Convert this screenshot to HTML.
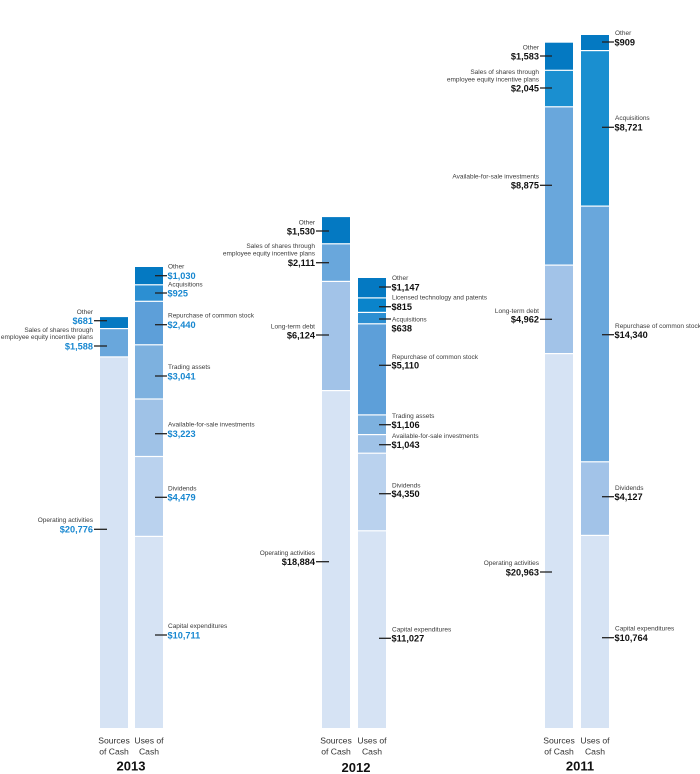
<!DOCTYPE html>
<html><head><meta charset="utf-8"><style>
html,body{margin:0;padding:0;background:#fff;}
svg{display:block;}
.l{font-family:"Liberation Sans",sans-serif;font-size:6.5px;fill:#3c3c3c;}
.v{font-family:"Liberation Sans",sans-serif;font-size:9.2px;font-weight:bold;fill:#111;}
.vb{font-family:"Liberation Sans",sans-serif;font-size:9.2px;font-weight:bold;fill:#1787d0;}
.e{text-anchor:end;}
.ax{font-family:"Liberation Sans",sans-serif;font-size:8.6px;fill:#333;text-anchor:middle;}
.yr{font-family:"Liberation Sans",sans-serif;font-size:13px;font-weight:bold;fill:#111;text-anchor:middle;}
line{stroke:#222;stroke-width:1.3;}
</style></head><body>
<svg width="700" height="774" viewBox="0 0 700 774" xmlns="http://www.w3.org/2000/svg">
<!-- 2013 sources -->
<rect x="100" y="357.5" width="28" height="370.5" fill="#d6e3f4"/>
<rect x="100" y="329.2" width="28" height="27.1" fill="#69a7dc"/>
<rect x="100" y="317.1" width="28" height="10.9" fill="#0479c2"/>
<!-- 2013 uses -->
<rect x="135" y="537.0" width="28" height="191" fill="#d6e3f4"/>
<rect x="135" y="457.1" width="28" height="78.7" fill="#bad2ee"/>
<rect x="135" y="399.6" width="28" height="56.3" fill="#9fc2e7"/>
<rect x="135" y="345.4" width="28" height="53.0" fill="#7db1df"/>
<rect x="135" y="301.9" width="28" height="42.3" fill="#5d9fd9"/>
<rect x="135" y="285.4" width="28" height="15.3" fill="#2c8fd2"/>
<rect x="135" y="267.0" width="28" height="17.2" fill="#0479c2"/>
<!-- 2012 sources -->
<rect x="322" y="391.2" width="28" height="336.8" fill="#d6e3f4"/>
<rect x="322" y="282.0" width="28" height="108.0" fill="#a2c3e8"/>
<rect x="322" y="244.4" width="28" height="36.4" fill="#69a7dc"/>
<rect x="322" y="217.1" width="28" height="26.1" fill="#0479c2"/>
<!-- 2012 uses -->
<rect x="358" y="531.4" width="28" height="196.6" fill="#d6e3f4"/>
<rect x="358" y="453.8" width="28" height="76.4" fill="#bad2ee"/>
<rect x="358" y="435.2" width="28" height="17.4" fill="#9fc2e7"/>
<rect x="358" y="415.5" width="28" height="18.5" fill="#7db1df"/>
<rect x="358" y="324.4" width="28" height="89.9" fill="#5d9fd9"/>
<rect x="358" y="313.0" width="28" height="10.2" fill="#2c8fd2"/>
<rect x="358" y="298.5" width="28" height="13.3" fill="#0a84cb"/>
<rect x="358" y="278.0" width="28" height="19.3" fill="#0479c2"/>
<!-- 2011 sources -->
<rect x="545" y="354.2" width="28" height="373.8" fill="#d6e3f4"/>
<rect x="545" y="265.7" width="28" height="87.3" fill="#a2c3e8"/>
<rect x="545" y="107.4" width="28" height="157.1" fill="#69a7dc"/>
<rect x="545" y="70.9" width="28" height="35.3" fill="#1a8fd0"/>
<rect x="545" y="42.7" width="28" height="27.0" fill="#0479c2"/>
<!-- 2011 uses -->
<rect x="581" y="536.0" width="28" height="192" fill="#d6e3f4"/>
<rect x="581" y="462.4" width="28" height="72.4" fill="#a2c3e8"/>
<rect x="581" y="206.7" width="28" height="254.5" fill="#69a7dc"/>
<rect x="581" y="51.2" width="28" height="154.3" fill="#1a8fd0"/>
<rect x="581" y="35.0" width="28" height="15.0" fill="#0479c2"/>

<!-- 2013 left labels -->
<text class="l e" x="93" y="314">Other</text>
<text class="vb e" x="93" y="324">$681</text>
<line x1="94" y1="320.7" x2="107" y2="320.7"/>
<text class="l e" x="93" y="332">Sales of shares through</text>
<text class="l e" x="93" y="339">employee equity incentive plans</text>
<text class="vb e" x="93" y="349.3">$1,588</text>
<line x1="94" y1="346" x2="107" y2="346"/>
<text class="l e" x="93" y="522">Operating activities</text>
<text class="vb e" x="93" y="532.6">$20,776</text>
<line x1="94" y1="529.3" x2="107" y2="529.3"/>
<!-- 2013 right labels -->
<text class="l" x="168" y="268.6">Other</text>
<text class="vb" x="167.5" y="279">$1,030</text>
<line x1="155" y1="275.7" x2="167" y2="275.7"/>
<text class="l" x="168" y="286.6">Acquisitions</text>
<text class="vb" x="167.5" y="296.3">$925</text>
<line x1="155" y1="293" x2="167" y2="293"/>
<text class="l" x="168" y="317.6">Repurchase of common stock</text>
<text class="vb" x="167.5" y="328">$2,440</text>
<line x1="155" y1="324.7" x2="167" y2="324.7"/>
<text class="l" x="168" y="369">Trading assets</text>
<text class="vb" x="167.5" y="379.3">$3,041</text>
<line x1="155" y1="376" x2="167" y2="376"/>
<text class="l" x="168" y="426.6">Available-for-sale investments</text>
<text class="vb" x="167.5" y="437">$3,223</text>
<line x1="155" y1="433.7" x2="167" y2="433.7"/>
<text class="l" x="168" y="490.3">Dividends</text>
<text class="vb" x="167.5" y="500.6">$4,479</text>
<line x1="155" y1="497.3" x2="167" y2="497.3"/>
<text class="l" x="168" y="628">Capital expenditures</text>
<text class="vb" x="167.5" y="638.3">$10,711</text>
<line x1="155" y1="635" x2="167" y2="635"/>

<!-- 2012 left labels -->
<text class="l e" x="315" y="224.6">Other</text>
<text class="v e" x="315" y="234.3">$1,530</text>
<line x1="316" y1="231" x2="329" y2="231"/>
<text class="l e" x="315" y="248">Sales of shares through</text>
<text class="l e" x="315" y="255.6">employee equity incentive plans</text>
<text class="v e" x="315" y="266">$2,111</text>
<line x1="316" y1="262.7" x2="329" y2="262.7"/>
<text class="l e" x="315" y="328.3">Long-term debt</text>
<text class="v e" x="315" y="338.3">$6,124</text>
<line x1="316" y1="335" x2="329" y2="335"/>
<text class="l e" x="315" y="555">Operating activities</text>
<text class="v e" x="315" y="565">$18,884</text>
<line x1="316" y1="561.7" x2="329" y2="561.7"/>
<!-- 2012 right labels -->
<text class="l" x="392" y="280">Other</text>
<text class="v" x="391.5" y="290.3">$1,147</text>
<line x1="379" y1="287" x2="391" y2="287"/>
<text class="l" x="392" y="299.6">Licensed technology and patents</text>
<text class="v" x="391.5" y="310">$815</text>
<line x1="379" y1="306.7" x2="391" y2="306.7"/>
<text class="l" x="392" y="321.3">Acquisitions</text>
<text class="v" x="391.5" y="331.6">$638</text>
<line x1="379" y1="319" x2="391" y2="319"/>
<text class="l" x="392" y="359">Repurchase of common stock</text>
<text class="v" x="391.5" y="368.6">$5,110</text>
<line x1="379" y1="365.3" x2="391" y2="365.3"/>
<text class="l" x="392" y="418">Trading assets</text>
<text class="v" x="391.5" y="428">$1,106</text>
<line x1="379" y1="424.7" x2="391" y2="424.7"/>
<text class="l" x="392" y="438">Available-for-sale investments</text>
<text class="v" x="391.5" y="448">$1,043</text>
<line x1="379" y1="444.7" x2="391" y2="444.7"/>
<text class="l" x="392" y="487.3">Dividends</text>
<text class="v" x="391.5" y="497">$4,350</text>
<line x1="379" y1="493.7" x2="391" y2="493.7"/>
<text class="l" x="392" y="631.3">Capital expenditures</text>
<text class="v" x="391.5" y="641.6">$11,027</text>
<line x1="379" y1="638.3" x2="391" y2="638.3"/>

<!-- 2011 left labels -->
<text class="l e" x="539" y="49.6">Other</text>
<text class="v e" x="539" y="59.3">$1,583</text>
<line x1="540" y1="56" x2="552" y2="56"/>
<text class="l e" x="539" y="74">Sales of shares through</text>
<text class="l e" x="539" y="81.3">employee equity incentive plans</text>
<text class="v e" x="539" y="91.3">$2,045</text>
<line x1="540" y1="88" x2="552" y2="88"/>
<text class="l e" x="539" y="178.3">Available-for-sale investments</text>
<text class="v e" x="539" y="188.6">$8,875</text>
<line x1="540" y1="185.3" x2="552" y2="185.3"/>
<text class="l e" x="539" y="313">Long-term debt</text>
<text class="v e" x="539" y="322.6">$4,962</text>
<line x1="540" y1="319.3" x2="552" y2="319.3"/>
<text class="l e" x="539" y="565">Operating activities</text>
<text class="v e" x="539" y="575.3">$20,963</text>
<line x1="540" y1="572" x2="552" y2="572"/>
<!-- 2011 right labels -->
<text class="l" x="615" y="35">Other</text>
<text class="v" x="614.5" y="45.3">$909</text>
<line x1="602" y1="42" x2="614" y2="42"/>
<text class="l" x="615" y="120">Acquisitions</text>
<text class="v" x="614.5" y="130.6">$8,721</text>
<line x1="602" y1="127.3" x2="614" y2="127.3"/>
<text class="l" x="615" y="328">Repurchase of common stock</text>
<text class="v" x="614.5" y="338">$14,340</text>
<line x1="602" y1="334.7" x2="614" y2="334.7"/>
<text class="l" x="615" y="490">Dividends</text>
<text class="v" x="614.5" y="500">$4,127</text>
<line x1="602" y1="496.7" x2="614" y2="496.7"/>
<text class="l" x="615" y="630.6">Capital expenditures</text>
<text class="v" x="614.5" y="641">$10,764</text>
<line x1="602" y1="637.7" x2="614" y2="637.7"/>

<!-- axis labels -->
<text class="ax" x="114" y="743.3">Sources</text>
<text class="ax" x="114" y="754.6">of Cash</text>
<text class="ax" x="149" y="743.3">Uses of</text>
<text class="ax" x="149" y="754.6">Cash</text>
<text class="yr" x="131" y="770.5">2013</text>

<text class="ax" x="336" y="743.3">Sources</text>
<text class="ax" x="336" y="754.6">of Cash</text>
<text class="ax" x="372" y="743.3">Uses of</text>
<text class="ax" x="372" y="754.6">Cash</text>
<text class="yr" x="356" y="772">2012</text>

<text class="ax" x="559" y="743.3">Sources</text>
<text class="ax" x="559" y="754.6">of Cash</text>
<text class="ax" x="595" y="743.3">Uses of</text>
<text class="ax" x="595" y="754.6">Cash</text>
<text class="yr" x="580" y="770.5">2011</text>
</svg>
</body></html>
